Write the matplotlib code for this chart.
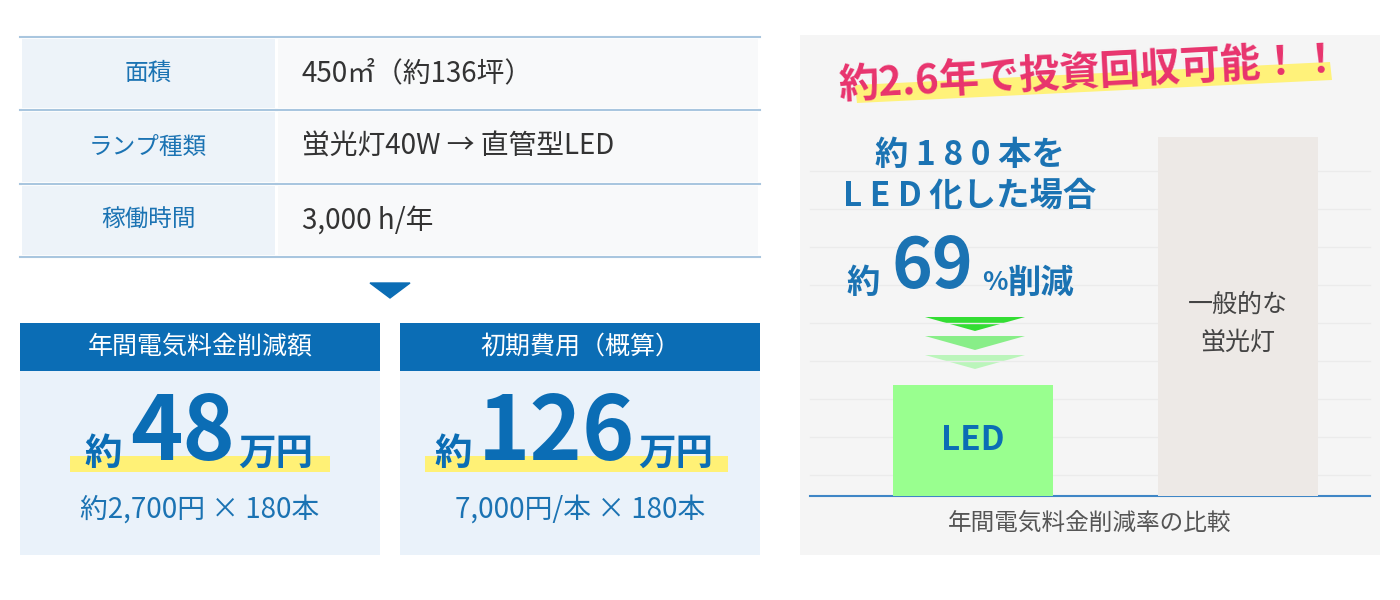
import matplotlib
matplotlib.use("Agg")
import matplotlib.pyplot as plt
from matplotlib.patches import Rectangle, Polygon

plt.rcParams['font.family'] = ['Noto Sans CJK JP', 'DejaVu Sans']

row_labels = ["面積", "ランプ種類", "稼働時間"]
row_values = ["450㎡（約136坪）", "蛍光灯40W → 直管型LED", "3,000 h/年"]
box_titles = ["年間電気料金削減額", "初期費用（概算）"]
box_nums = ["48", "126"]
box_subs = ["約2,700円 × 180本", "7,000円/本 × 180本"]
bar_labels = ["LED", "一般的な\n蛍光灯"]
bar_values = [31, 100]
reduction = 69

BLUE = "#0b6db5"
LBLUE = "#1b73b3"
fig = plt.figure(figsize=(14, 6), dpi=100)
ax = fig.add_axes([0, 0, 1, 1])
ax.set_xlim(0, 1400); ax.set_ylim(600, 0); ax.axis("off")

# table
lines_y = [37, 110, 184, 257]
for i, (lab, val) in enumerate(zip(row_labels, row_values)):
    y0, y1 = lines_y[i], lines_y[i + 1]
    ax.add_patch(Rectangle((22, y0 + 2), 253, y1 - y0 - 4, color="#edf3f9", lw=0))
    ax.add_patch(Rectangle((278, y0 + 2), 480, y1 - y0 - 4, color="#f8f9fa", lw=0))
    ym = (y0 + y1) / 2
    ax.text(148, ym, lab, ha="center", va="center", fontsize=17, color=LBLUE)
    ax.text(302, ym, val, ha="left", va="center", fontsize=20, color="#333333")
for y in lines_y:
    ax.plot([20, 760], [y, y], color="#a9c6df", lw=1.5)
ax.add_patch(Polygon([[370, 283], [410, 283], [390, 298]], color=BLUE))

# boxes
layout = [(122, 183, 238), (472, 556, 638)]
for i, x0 in enumerate([20, 400]):
    ax.add_patch(Rectangle((x0, 323), 360, 48, color=BLUE, lw=0))
    ax.add_patch(Rectangle((x0, 371), 360, 184, color="#eaf2fa", lw=0))
    cx = x0 + 180
    ax.text(cx, 347, box_titles[i], ha="center", va="center", fontsize=18, color="white")
    ax.add_patch(Rectangle((x0 + 50 if i == 0 else x0 + 25, 456), 260 if i == 0 else 303, 16, color="#fff176", lw=0))
    lx, nx, rx = layout[i]
    ax.text(nx, 434, box_nums[i], ha="center", va="center", fontsize=64, fontweight="bold", color=BLUE)
    ax.text(lx, 453, "約", ha="right", va="center", fontsize=27, fontweight="bold", color=BLUE)
    ax.text(rx, 453, "万円", ha="left", va="center", fontsize=27, fontweight="bold", color=BLUE)
    ax.text(cx, 510, box_subs[i], ha="center", va="center", fontsize=20, color=LBLUE)

# right panel
ax.add_patch(Rectangle((800, 35), 580, 520, color="#f5f5f5", lw=0))
for y in range(171, 496, 38):
    ax.plot([810, 1370], [y, y], color="#ebebeb", lw=1)
ax.add_patch(Polygon([[855, 85], [1330, 62], [1332, 80], [857, 103]], color="#fff27a", lw=0))
ax.text(1090, 73, "約2.6年で投資回収可能！！", ha="center", va="center", fontsize=29,
        fontweight="bold", color="#e8336d", rotation=3)

bx = fig.add_axes([810 / 1400, (600 - 496) / 600, 560 / 1400, 359 / 600])
bx.set_xlim(810, 1370); bx.set_ylim(0, 100); bx.axis("off")
bx.bar([973, 1238], bar_values, width=160, color=["#99ff8f", "#ede9e6"])
bx.text(973, bar_values[0] / 2, bar_labels[0], ha="center", va="center", fontsize=24,
        fontweight="bold", color=BLUE)
bx.text(1238, 48, bar_labels[1], ha="center", va="center", fontsize=18, color="#444444",
        linespacing=1.6)
ax.plot([810, 1370], [496, 496], color="#3f86c6", lw=1.5)
ax.text(1090, 523, "年間電気料金削減率の比較", ha="center", va="center", fontsize=17, color="#555555")

ax.text(970, 155, "約 1 8 0 本を", ha="center", va="center", fontsize=24, fontweight="bold", color=LBLUE)
ax.text(970, 196, "L E D 化した場合", ha="center", va="center", fontsize=24, fontweight="bold", color=LBLUE)
ax.text(932, 268, f"{reduction}", ha="center", va="center", fontsize=50, fontweight="bold", color=LBLUE)
ax.text(880, 283, "約", ha="right", va="center", fontsize=24, fontweight="bold", color=LBLUE)
ax.text(982, 283, "%", ha="left", va="center", fontsize=19, fontweight="bold", color=LBLUE)
ax.text(1008, 283, "削減", ha="left", va="center", fontsize=24, fontweight="bold", color=LBLUE)
for k, c in enumerate(["#33dd33", "#88ee88", "#bbf5bb"]):
    y = 317 + k * 19
    ax.add_patch(Polygon([[925, y], [1025, y], [975, y + 14]], color=c, lw=0))

fig.savefig("out.png", dpi=100)
